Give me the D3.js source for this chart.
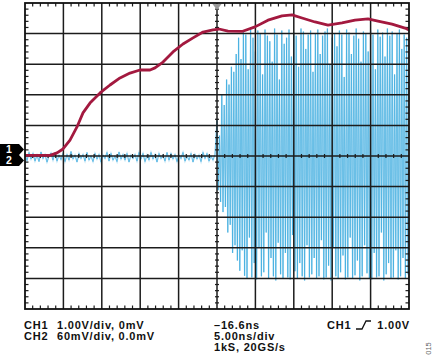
<!DOCTYPE html>
<html>
<head>
<meta charset="utf-8">
<script src="https://cdn.jsdelivr.net/npm/d3@7"></script>
<style>
  body { margin: 0; background: #fff; }
  text { font-family: "Liberation Sans", Arial, sans-serif; font-weight: bold; fill: #111; }
</style>
</head>
<body>
<div id="chart"></div>
<script>
// CH1 (red) – time in ns from left edge of screen, volts
const ch1Time = [0, 3.26, 4.17, 4.95, 5.86, 6.77, 7.55, 8.46, 9.77, 11.07, 12.37, 13.67, 14.97, 16.28,
  16.93, 17.97, 19.27, 20.57, 21.88, 23.18, 24.48, 25.26, 26.43, 28.26, 29.95, 31.64, 33.46, 34.77,
  36.07, 37.76, 39.45, 41.28, 42.97, 44.66, 45.96, 47.79, 49.48, 50];
const ch1Volts = [0.02, 0.02, 0.10, 0.23, 0.52, 0.95, 1.41, 1.73, 2.06, 2.32, 2.55, 2.71, 2.81, 2.81,
  2.88, 3.07, 3.40, 3.66, 3.86, 4.05, 4.12, 4.15, 4.08, 4.07, 4.22, 4.44, 4.58, 4.61,
  4.51, 4.38, 4.28, 4.35, 4.44, 4.48, 4.41, 4.31, 4.18, 4.12];

// CH2 (blue) – pre-trigger noise, mV, 0..25 ns
const ch2Noise = [4, -9, 7, -6, 5, -10, 2, -11, 8, -5, 3, -12, 0, 6, -8, 7, -10, 2, -7, 5, -11, 3, -8, 9,
  -6, 2, -12, 5, -5, 3, -10, 7, -8, 0, -11, 5, -6, 3, -12, 2, -5, 7, -10, 5, -8, 0, -11, 8, -6, 3, -8, 5,
  -12, 2, -5, 3, -10, 7, -6, 5, -11, 2, -8, 7, -6, 3, -12, 5, -5, 2, -10, 7, -8, 5, -6, 3, -11, 2, -5, 7,
  -10, 0, -8, 5, -12, 3, -6, 2, -11, 7, -5, 5, -10, 0, -8, 3];

// CH2 burst after trigger, 25..50 ns: positive peaks and negative troughs, mV
const ch2Peaks = [70, 40, 120, 100, 150, 140, 175, 165, 200, 232, 190, 244, 238, 170, 250, 232, 205, 246,
  240, 160, 248, 236, 225, 185, 250, 238, 150, 246, 220, 232, 248, 195, 242, 236, 175, 250, 244, 210, 238,
  246, 165, 240, 248, 200, 236, 244, 250, 180, 232, 240, 215, 246, 238, 155, 248, 242, 200, 236, 250, 230,
  185, 244, 240, 205, 246, 238, 170, 248, 234, 242, 195, 250, 236, 244, 160, 240, 248, 210, 238, 232];
const ch2Troughs = [-67, -90, -110, -100, -150, -135, -190, -175, -205, -225, -185, -235, -240, -160, -238,
  -210, -242, -180, -236, -228, -150, -240, -200, -236, -244, -170, -232, -240, -190, -238, -242, -155, -226,
  -240, -210, -236, -244, -175, -238, -232, -200, -240, -236, -165, -242, -238, -215, -244, -180, -236, -240,
  -228, -195, -242, -238, -160, -240, -234, -205, -244, -236, -175, -230, -240, -242, -190, -238, -236, -150,
  -244, -232, -210, -240, -238, -185, -242, -236, -200, -240, -232];

const readoutLeftCh = ["CH1", "CH2"];
const readoutLeftVal = ["1.00V/div, 0mV", "60mV/div, 0.0mV"];
const readoutMid = ["\u201316.6ns", "5.00ns/div", "1kS, 20GS/s"];
const triggerSource = "CH1";
const triggerLevel = "1.00V";
const figureId = "015";

const width = 435, height = 360;
const plot = { left: 25, right: 409, top: 3, bottom: 309 };
const divs = 10, minorPerDiv = 5;

const x = d3.scaleLinear().domain([0, 50]).range([plot.left, plot.right]);
const y1 = d3.scaleLinear().domain([-5, 5]).range([plot.bottom, plot.top]);       // 1.00 V/div
const y2 = d3.scaleLinear().domain([-300, 300]).range([plot.bottom, plot.top]);   // 60 mV/div
const gx = d3.scaleLinear().domain([0, divs]).range([plot.left, plot.right]);
const gy = d3.scaleLinear().domain([0, divs]).range([plot.top, plot.bottom]);

const svg = d3.select("#chart").append("svg")
  .attr("width", width).attr("height", height);

// CH2 trace (under the graticule, like the scope screen)
const ch2 = [];
ch2Noise.forEach((v, i) => ch2.push([25 * i / ch2Noise.length, v]));
ch2Peaks.forEach((p, i) => {
  const n = ch2Peaks.length * 2;
  ch2.push([25 + 25 * (2 * i) / n, p]);
  ch2.push([25 + 25 * (2 * i + 1) / n, ch2Troughs[i]]);
});
const ch2Line = d3.line().x(d => x(d[0])).y(d => y2(d[1]));
svg.append("path").datum(ch2)
  .attr("fill", "none").attr("stroke", "#b3def4").attr("stroke-width", 1.4)
  .attr("d", ch2Line);
svg.append("path").datum(ch2)
  .attr("fill", "none").attr("stroke", "#1e9fd8").attr("stroke-width", 0.55).attr("stroke-opacity", 0.9)
  .attr("d", ch2Line);

// grid
const grid = svg.append("g").attr("stroke", "#1c1c1c").attr("stroke-width", 1.5);
grid.selectAll(".vl").data(d3.range(1, divs)).join("line")
  .attr("x1", d => gx(d)).attr("x2", d => gx(d))
  .attr("y1", plot.top).attr("y2", plot.bottom);
grid.selectAll(".hl").data(d3.range(1, divs)).join("line")
  .attr("y1", d => gy(d)).attr("y2", d => gy(d))
  .attr("x1", plot.left).attr("x2", plot.right);

// minor ticks
const minors = d3.range(0, divs * minorPerDiv + 1).filter(i => i % minorPerDiv !== 0).map(i => i / minorPerDiv);
const tk = svg.append("g").attr("stroke", "#1c1c1c").attr("stroke-width", 1.2);
const tl = 3.5;
minors.forEach(m => {
  const px = gx(m), py = gy(m);
  tk.append("line").attr("x1", px).attr("x2", px).attr("y1", plot.top).attr("y2", plot.top + tl);
  tk.append("line").attr("x1", px).attr("x2", px).attr("y1", plot.bottom).attr("y2", plot.bottom - tl);
  tk.append("line").attr("x1", px).attr("x2", px).attr("y1", gy(divs / 2) - 2).attr("y2", gy(divs / 2) + 2);
  tk.append("line").attr("y1", py).attr("y2", py).attr("x1", plot.left).attr("x2", plot.left + tl);
  tk.append("line").attr("y1", py).attr("y2", py).attr("x1", plot.right).attr("x2", plot.right - tl);
  tk.append("line").attr("y1", py).attr("y2", py).attr("x1", gx(divs / 2) - 2).attr("x2", gx(divs / 2) + 2);
});

// CH1 trace
svg.append("path")
  .datum(ch1Time.map((t, i) => [t, ch1Volts[i]]))
  .attr("fill", "none")
  .attr("stroke", "#a3193f")
  .attr("stroke-width", 2.8)
  .attr("stroke-linejoin", "round")
  .attr("d", d3.line().x(d => x(d[0])).y(d => y1(d[1])));

// border
svg.append("rect")
  .attr("x", plot.left).attr("y", plot.top)
  .attr("width", plot.right - plot.left).attr("height", plot.bottom - plot.top)
  .attr("fill", "none").attr("stroke", "#111").attr("stroke-width", 1.8);

// trigger position marker
const tx = gx(divs / 2);
svg.append("path")
  .attr("d", `M${tx - 4.5},${plot.top + 1}L${tx + 4.5},${plot.top + 1}L${tx},${plot.top + 7}Z`)
  .attr("fill", "#999");

// channel ground markers
const cy = gy(divs / 2);
[["1", cy - 6.5], ["2", cy + 4.5]].forEach(([lab, my]) => {
  svg.append("path")
    .attr("d", `M0,${my - 5.5}L19,${my - 5.5}L24,${my}L19,${my + 5.5}L0,${my + 5.5}Z`)
    .attr("fill", "#000");
  svg.append("text").attr("x", 9).attr("y", my + 3.8)
    .attr("text-anchor", "middle").style("fill", "#fff").style("font-size", "10.5px").text(lab);
});

// readouts
const lh = 11, base = 329, fs = "11px", ls = "0.8px";
readoutLeftCh.forEach((s, i) => {
  svg.append("text").attr("x", 24).attr("y", base + i * lh).style("font-size", fs).style("letter-spacing", ls).text(s);
  svg.append("text").attr("x", 57).attr("y", base + i * lh).style("font-size", fs).style("letter-spacing", ls).text(readoutLeftVal[i]);
});
readoutMid.forEach((s, i) => {
  svg.append("text").attr("x", 214).attr("y", base + i * lh).style("font-size", fs).style("letter-spacing", ls).text(s);
});
svg.append("text").attr("x", 327).attr("y", base).style("font-size", fs).style("letter-spacing", ls).text(triggerSource);
svg.append("path")
  .attr("d", `M356,${base}L362,${base}L366,${base - 8}L371,${base - 8}`)
  .attr("fill", "none").attr("stroke", "#111").attr("stroke-width", 1.3);
svg.append("text").attr("x", 410).attr("y", base).attr("text-anchor", "end")
  .style("font-size", fs).style("letter-spacing", ls).text(triggerLevel);

svg.append("text")
  .attr("transform", "translate(431,348.5) rotate(-90)")
  .attr("text-anchor", "middle")
  .style("font-size", "7.5px").style("font-weight", "normal").style("fill", "#666")
  .text(figureId);
</script>
</body>
</html>
